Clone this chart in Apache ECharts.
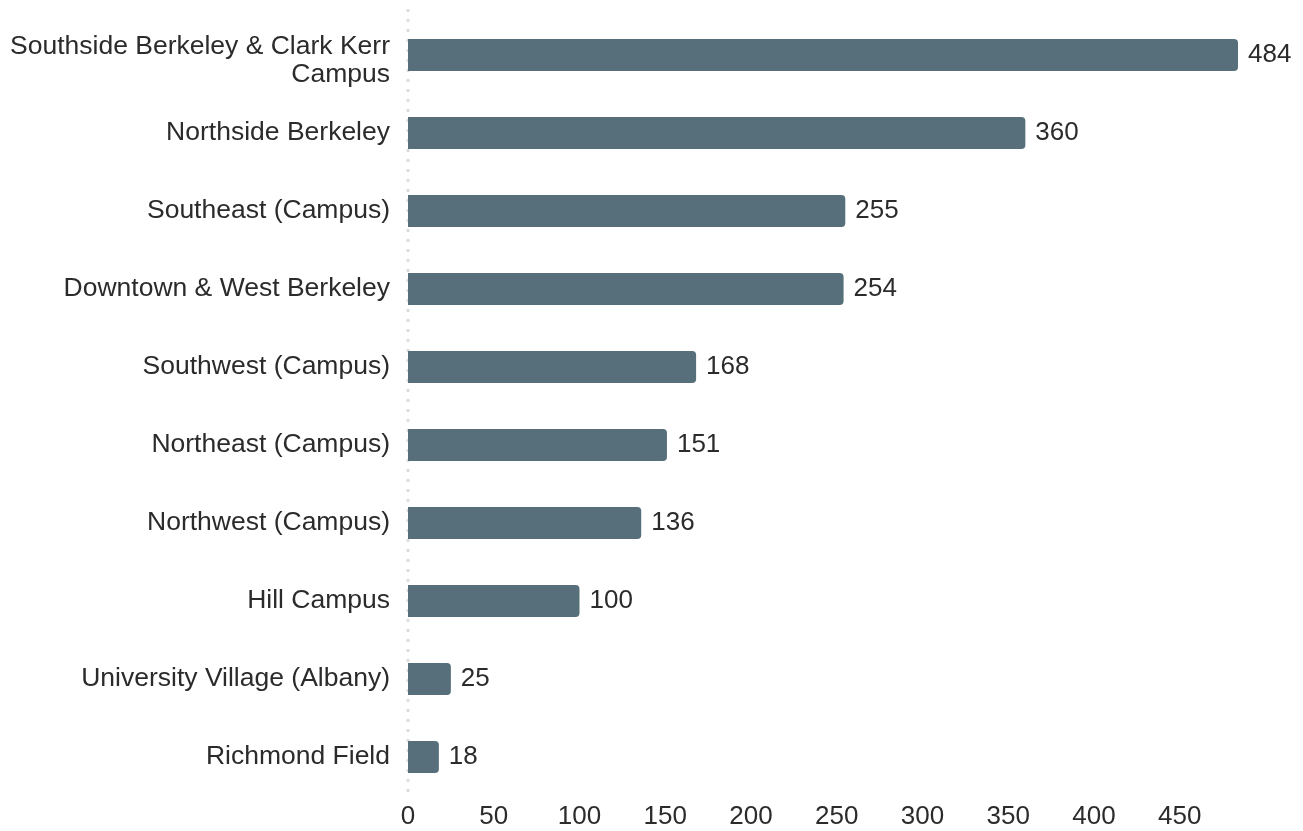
<!DOCTYPE html>
<html>
<head>
<meta charset="utf-8">
<script src="https://cdn.jsdelivr.net/npm/echarts@6/dist/echarts.min.js"></script>
<style>
  html, body { margin: 0; padding: 0; background: #fff; }
  #chart { width: 1303px; height: 831px; }
</style>
</head>
<body>
<div id="chart"></div>
<script>
const categories = [
  'Southside Berkeley & Clark Kerr Campus',
  'Northside Berkeley',
  'Southeast (Campus)',
  'Downtown & West Berkeley',
  'Southwest (Campus)',
  'Northeast (Campus)',
  'Northwest (Campus)',
  'Hill Campus',
  'University Village (Albany)',
  'Richmond Field'
]
const counts = [484, 360, 255, 254, 168, 151, 136, 100, 25, 18]

const font = '"Liberation Sans", Arial, Helvetica, sans-serif'
const textColor = '#2b2b2b'
const MAX_CHARS = 32

// wrap long category names on word boundaries
const wrapLabel = (name) => {
  const words = name.split(' ')
  const lines = []
  let line = ''
  words.forEach((w) => {
    if (line && (line + ' ' + w).length > MAX_CHARS) {
      lines.push(line)
      line = w
    } else {
      line = line ? line + ' ' + w : w
    }
  })
  if (line) lines.push(line)
  if (lines.length === 1) return name
  // wrapped names sit a little low in the original, so add a small spacer line on top
  return '{s| }\n' + lines.map((l) => '{t|' + l + '}').join('\n')
}

const chart = echarts.init(document.getElementById('chart'))

chart.setOption({
  backgroundColor: '#ffffff',
  animation: false,
  grid: { left: 408, right: 65, top: 16, bottom: 35, containLabel: false },
  xAxis: {
    type: 'value',
    min: 0,
    max: 'dataMax',
    interval: 50,
    axisLine: { show: false },
    axisTick: { show: false },
    splitLine: { show: false },
    axisLabel: {
      color: textColor,
      fontSize: 26,
      fontFamily: font,
      margin: 8,
      showMaxLabel: false
    }
  },
  yAxis: {
    type: 'category',
    inverse: true,
    data: categories,
    axisTick: { show: false },
    axisLine: { show: false },
    axisLabel: {
      color: textColor,
      fontSize: 26.5,
      fontFamily: font,
      margin: 18,
      align: 'right',
      formatter: (v) => wrapLabel(v),
      rich: {
        s: { fontSize: 8, lineHeight: 12 },
        t: { fontSize: 26.5, fontFamily: font, color: textColor, lineHeight: 28 }
      }
    }
  },
  series: [
    {
      type: 'bar',
      data: counts,
      barWidth: 32,
      itemStyle: { color: '#566f7a', borderRadius: [0, 4, 4, 0] },
      label: {
        show: true,
        position: 'right',
        distance: 10,
        color: textColor,
        fontSize: 26,
        fontFamily: font
      }
    }
  ]
})

// dotted zero line, running slightly past the plot area like the original
const x0 = chart.convertToPixel({ xAxisIndex: 0 }, 0)
chart.setOption({
  graphic: [
    {
      type: 'line',
      shape: { x1: x0, y1: 9, x2: x0, y2: 799 },
      style: { stroke: '#dedede', lineWidth: 3, lineDash: [3, 7] },
      z: 0
    }
  ]
})

window.addEventListener('resize', () => chart.resize())
</script>
</body>
</html>
